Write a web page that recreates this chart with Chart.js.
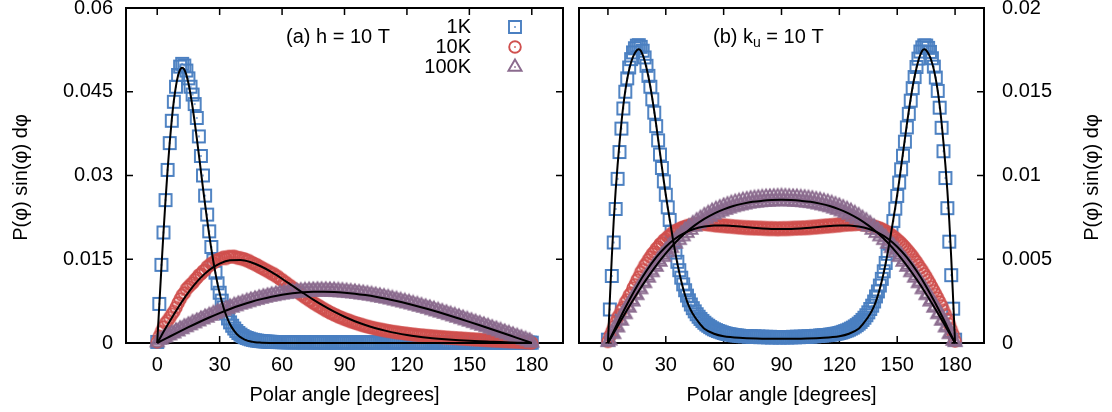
<!DOCTYPE html>
<html>
<head>
<meta charset="utf-8">
<script src="https://cdn.jsdelivr.net/npm/chart.js@4.4.1/dist/chart.umd.min.js"></script>
<style>
  html, body { margin: 0; padding: 0; background: #fff; }
  #wrap { position: relative; width: 1112px; height: 412px; }
  .panel { position: absolute; top: 0; height: 412px; }
  #panel-a { left: 0; width: 571px; }
  #panel-b { left: 571px; width: 541px; }
</style>
</head>
<body>
<div id="wrap">
  <div class="panel" id="panel-a"><canvas id="chart-a"></canvas></div>
  <div class="panel" id="panel-b"><canvas id="chart-b"></canvas></div>
</div>
<script>
// Distribuições do ângulo polar: (a) campo h = 10 T, (b) anisotropia k_u = 10 T.

const FONT = '"Liberation Sans", Arial, Helvetica, sans-serif';
const BLUE = '#4a7fc1';
const RED = '#d0504e';
const PURPLE = '#8b6b8e';

const steps = (from, to, step) => {
  const out = [];
  for (let v = from; v <= to; v += step) out.push(v);
  return out;
};

// grade de amostragem (graus)
const angles = steps(0, 180, 1);
const fitAnglesCoarse = steps(0, 180, 5);
const fitAnglesA1 = steps(0, 50, 1).concat([55, 60, 70, 80, 90, 100, 120, 140, 160, 180]);
const fitAnglesB1 = steps(0, 50, 1).concat([55, 60, 70, 80, 90, 100, 110, 120, 125], steps(130, 180, 1));

const xTicks = [0, 30, 60, 90, 120, 150, 180];
const yTicksA = [0, 0.015, 0.03, 0.045, 0.06];
const yTickLabelsA = ['0', '0.015', '0.03', '0.045', '0.06'];
const yTicksB = [0, 0.005, 0.01, 0.015, 0.02];
const yTickLabelsB = ['0', '0.005', '0.01', '0.015', '0.02'];
const temperatures = ['1K', '10K', '100K'];

// valores em unidades de 1e-5
// (a) h = 10 T
const sqA = [
  20, 700, 1400, 1980, 2560, 3100, 3580, 3980, 4320, 4590,
  4800, 4950, 5000, 4970, 4880, 4740, 4590, 4450, 4280, 4030,
  3700, 3350, 3000, 2640, 2300, 2000, 1720, 1480, 1260, 1070,
  900, 760, 640, 530, 440, 370, 310, 260, 215, 180,
  150, 125, 105, 90, 78, 66, 57, 49, 43, 38,
  34, 30, 27, 25, 23, 21, 19, 18, 17, 16,
  15, 14, 15, 13, 14, 12, 13, 14, 12, 13,
  11, 12, 13, 11, 12, 13, 11, 12, 10, 12,
  11, 10, 12, 11, 10, 12, 10, 11, 12, 10,
  11, 12, 10, 11, 10, 12, 11, 10, 11, 12,
  10, 11, 10, 12, 11, 10, 11, 12, 10, 11,
  10, 12, 11, 10, 11, 12, 10, 11, 10, 11,
  12, 10, 11, 10, 12, 11, 10, 11, 10, 12,
  11, 10, 11, 12, 10, 11, 10, 11, 12, 10,
  11, 10, 12, 11, 10, 11, 10, 12, 11, 10,
  11, 12, 10, 11, 10, 11, 12, 10, 11, 10,
  11, 12, 10, 11, 10, 9, 11, 10, 9, 10,
  11, 9, 10, 9, 8, 10, 9, 8, 9, 7,
  6,
];
const ciA = [
  20, 120, 205, 285, 355, 400, 455, 515, 565, 635,
  715, 785, 855, 895, 965, 1005, 1045, 1075, 1125, 1165,
  1215, 1235, 1285, 1305, 1365, 1385, 1425, 1435, 1475, 1485,
  1505, 1515, 1535, 1515, 1545, 1545, 1545, 1550, 1535, 1520,
  1525, 1500, 1505, 1475, 1475, 1440, 1435, 1405, 1400, 1365,
  1355, 1325, 1315, 1285, 1275, 1240, 1240, 1195, 1190, 1145,
  1135, 1095, 1080, 1035, 1025, 980, 970, 925, 910, 870,
  855, 815, 805, 765, 755, 715, 705, 670, 660, 625,
  615, 580, 575, 540, 535, 505, 500, 470, 465, 440,
  435, 410, 408, 383, 380, 358, 355, 335, 333, 312,
  310, 292, 291, 273, 272, 256, 255, 240, 240, 225,
  225, 212, 213, 200, 201, 188, 190, 178, 180, 168,
  170, 158, 161, 149, 152, 141, 144, 133, 137, 126,
  130, 119, 123, 112, 117, 106, 111, 100, 105, 94,
  99, 89, 94, 84, 89, 79, 84, 74, 79, 69,
  74, 64, 69, 59, 64, 55, 60, 51, 56, 47,
  52, 43, 48, 39, 44, 35, 40, 31, 36, 27,
  32, 23, 28, 19, 23, 15, 18, 11, 13, 7,
  3,
];
const triA = [
  10, 55, 60, 95, 100, 140, 135, 175, 170, 215,
  205, 255, 245, 290, 280, 325, 315, 365, 350, 395,
  385, 430, 420, 465, 450, 495, 485, 530, 515, 560,
  545, 590, 575, 620, 605, 648, 630, 675, 655, 700,
  685, 725, 705, 748, 728, 770, 750, 790, 770, 810,
  790, 828, 808, 845, 825, 862, 838, 876, 853, 890,
  866, 902, 876, 912, 886, 922, 895, 930, 902, 936,
  908, 941, 912, 946, 916, 950, 918, 952, 920, 952,
  920, 952, 918, 950, 915, 948, 912, 942, 906, 937,
  902, 930, 894, 922, 886, 914, 878, 904, 866, 894,
  858, 884, 846, 872, 834, 858, 820, 845, 806, 830,
  792, 815, 776, 798, 758, 782, 742, 764, 724, 746,
  706, 728, 688, 708, 668, 690, 648, 670, 628, 648,
  608, 628, 586, 606, 564, 585, 542, 562, 520, 540,
  498, 516, 474, 494, 450, 470, 427, 446, 403, 422,
  380, 398, 355, 373, 330, 349, 306, 324, 281, 299,
  256, 274, 231, 249, 206, 224, 180, 198, 155, 172,
  129, 146, 104, 120, 78, 94, 52, 66, 28, 38,
  5,
];
const fitA1 = [
  0, 675, 1336, 1970, 2563, 3105, 3587, 4000, 4339, 4602,
  4787, 4895, 4930, 4897, 4802, 4651, 4455, 4222, 3958, 3674,
  3378, 3076, 2776, 2482, 2200, 1933, 1685, 1455, 1247, 1059,
  893, 746, 619, 510, 416, 337, 271, 216, 171, 135,
  105, 82, 62, 48, 36, 27, 20, 15, 11, 8,
  5,
  1, 0, 0, 0, 0, 0, 0, 0, 0, 0,
];
const fitA2 = [0, 325, 632, 907, 1134, 1308, 1423, 1481, 1486, 1446, 1370, 1269, 1151, 1025, 899, 777, 664, 561, 470, 390, 323, 265, 217, 177, 144, 117, 94, 76, 61, 49, 39, 30, 23, 16, 10, 5, 0];
const fitA3 = [0, 96, 191, 283, 372, 457, 536, 610, 676, 735, 786, 829, 864, 890, 908, 918, 920, 915, 902, 883, 858, 828, 792, 751, 707, 659, 608, 554, 498, 439, 379, 318, 256, 193, 129, 64, 0];

// (b) k_u = 10 T
const sqB = [
  20, 200, 400, 600, 800, 980, 1140, 1280, 1400, 1500,
  1580, 1645, 1695, 1735, 1760, 1775, 1778, 1768, 1745, 1705,
  1655, 1595, 1530, 1455, 1375, 1295, 1210, 1125, 1045, 965,
  885, 810, 735, 665, 600, 540, 485, 435, 390, 350,
  315, 283, 255, 230, 208, 189, 172, 157, 144, 132,
  121, 111, 103, 95, 88, 82, 77, 72, 68, 64,
  60, 57, 54, 52, 50, 48, 46, 45, 44, 42,
  41, 40, 42, 38, 41, 37, 40, 36, 39, 35,
  38, 35, 37, 34, 37, 33, 36, 34, 36, 33,
  35, 34, 36, 33, 36, 34, 37, 34, 38, 35,
  38, 36, 39, 37, 40, 38, 41, 40, 43, 42,
  45, 45, 46, 47, 48, 50, 51, 53, 55, 57,
  60, 63, 67, 71, 75, 80, 86, 92, 99, 107,
  116, 126, 138, 151, 166, 183, 203, 223, 248, 278,
  308, 343, 383, 428, 478, 533, 593, 658, 728, 802,
  878, 958, 1037, 1118, 1202, 1287, 1368, 1447, 1522, 1588,
  1648, 1698, 1740, 1765, 1777, 1776, 1762, 1738, 1700, 1650,
  1585, 1505, 1405, 1285, 1145, 985, 805, 605, 405, 205,
  20,
];
const ciB = [
  10, 42, 68, 97, 123, 152, 168, 197, 213, 242,
  258, 284, 298, 327, 348, 374, 393, 422, 438, 462,
  476, 497, 513, 532, 543, 562, 573, 590, 598, 614,
  620, 634, 640, 654, 658, 670, 673, 682, 684, 692,
  692, 700, 698, 706, 704, 710, 708, 713, 710, 714,
  709, 713, 706, 711, 703, 709, 700, 707, 698, 705,
  696, 703, 694, 701, 692, 699, 690, 697, 688, 695,
  686, 694, 684, 693, 683, 692, 682, 691, 681, 690,
  680, 689, 679, 688, 678, 688, 678, 687, 677, 687,
  678, 688, 678, 688, 679, 689, 680, 690, 681, 691,
  682, 692, 683, 693, 684, 695, 686, 697, 688, 699,
  690, 701, 692, 703, 694, 705, 696, 707, 698, 709,
  700, 711, 703, 712, 705, 713, 706, 714, 708, 713,
  710, 712, 708, 708, 704, 706, 700, 700, 694, 694,
  686, 686, 676, 676, 664, 662, 650, 646, 634, 628,
  616, 607, 596, 584, 572, 558, 545, 530, 516, 498,
  484, 466, 448, 432, 413, 395, 374, 355, 333, 312,
  290, 268, 245, 222, 195, 170, 140, 112, 80, 50,
  12,
];
const triB = [
  5, 14, 60, 52, 100, 92, 140, 132, 180, 171,
  219, 210, 257, 247, 294, 285, 331, 320, 366, 356,
  401, 389, 434, 422, 466, 454, 497, 484, 526, 513,
  555, 540, 581, 566, 607, 592, 631, 614, 653, 636,
  675, 656, 694, 675, 713, 694, 730, 710, 745, 725,
  761, 739, 774, 752, 787, 765, 798, 775, 808, 785,
  818, 794, 826, 802, 834, 810, 841, 816, 846, 821,
  852, 826, 856, 831, 861, 835, 864, 837, 867, 840,
  869, 842, 871, 843, 872, 845, 873, 846, 874, 847,
  875, 847, 874, 846, 873, 845, 872, 843, 871, 842,
  869, 840, 867, 837, 864, 835, 861, 831, 856, 826,
  852, 821, 846, 816, 841, 810, 834, 802, 826, 794,
  818, 785, 808, 775, 798, 765, 787, 752, 774, 739,
  761, 725, 745, 710, 730, 694, 713, 675, 694, 656,
  675, 636, 653, 614, 631, 592, 607, 566, 581, 540,
  555, 513, 526, 484, 497, 454, 466, 422, 434, 389,
  401, 356, 366, 320, 331, 285, 294, 247, 257, 210,
  219, 171, 180, 132, 140, 92, 100, 52, 60, 12,
  5,
];
const fitB1 = [
  0, 260, 510, 730, 910, 1060, 1195, 1315, 1420, 1505,
  1575, 1632, 1675, 1708, 1732, 1748, 1753, 1746, 1722, 1687,
  1642, 1590, 1530, 1460, 1385, 1305, 1220, 1135, 1050, 965,
  885, 810, 740, 670, 600, 535, 475, 420, 370, 325,
  285, 250, 220, 196, 175, 157, 140, 124, 110, 97,
  85,
  55, 40, 30, 26, 25, 26, 30, 40, 55,
  85, 97, 110, 124, 140, 157, 175, 196, 220, 250,
  285, 325, 370, 420, 475, 535, 600, 670, 740, 810,
  885, 965, 1050, 1135, 1220, 1305, 1385, 1460, 1530, 1590,
  1642, 1687, 1722, 1746, 1753, 1748, 1732, 1708, 1675, 1632,
  1575, 1505, 1420, 1315, 1195, 1060, 910, 730, 510, 260,
  0,
];
const fitB2 = [0, 119, 233, 338, 431, 511, 575, 624, 659, 682, 695, 701, 702, 698, 694, 688, 684, 681, 680, 681, 684, 688, 694, 698, 702, 701, 695, 682, 659, 624, 575, 511, 431, 338, 233, 119, 0];
const fitB3 = [0, 100, 199, 293, 381, 462, 535, 600, 655, 702, 741, 773, 798, 818, 832, 843, 849, 853, 855, 853, 849, 843, 832, 818, 798, 773, 741, 702, 655, 600, 535, 462, 381, 293, 199, 100, 0];

Chart.defaults.font.family = FONT;
Chart.defaults.font.size = 20;
Chart.defaults.color = '#000';

function glyph(shape, color) {
  const c = document.createElement('canvas');
  c.width = 20;
  c.height = 20;
  const g = c.getContext('2d');
  g.strokeStyle = color;
  g.fillStyle = color;
  g.lineWidth = 1.9;
  g.beginPath();
  if (shape === 'square') g.rect(4, 4, 12, 12);
  else if (shape === 'circle') g.arc(10, 10, 5.8, 0, Math.PI * 2);
  else { g.moveTo(10, 2.4); g.lineTo(16.6, 13.8); g.lineTo(3.4, 13.8); g.closePath(); }
  g.stroke();
  g.fillRect(9.2, 9.2, 1.6, 1.6);
  return c;
}

const GLYPHS = [glyph('square', BLUE), glyph('circle', RED), glyph('triangle', PURPLE)];

const pts = (xs, ys) => xs.map((x, i) => ({ x, y: ys[i] / 1e5 }));

function markerSet(label, xs, ys, style, order) {
  return {
    label, data: pts(xs, ys), pointStyle: style, pointRadius: 7, pointHoverRadius: 7,
    showLine: false, order, clip: false,
  };
}

function fitSet(xs, ys) {
  return {
    data: pts(xs, ys), showLine: true, borderColor: '#000', borderWidth: 2,
    pointRadius: 0, cubicInterpolationMode: 'monotone', order: 0, clip: false,
  };
}

function xScale() {
  return {
    type: 'linear', min: -15, max: 195,
    grid: { display: false, drawTicks: false },
    border: { display: false },
    ticks: { padding: 10, maxRotation: 0, autoSkip: false },
    title: { display: true, text: 'Polar angle [degrees]', padding: { top: 0, bottom: 5 } },
    afterBuildTicks: (s) => { s.ticks = xTicks.map((value) => ({ value })); },
    afterFit: (s) => { s.height = 69; s.paddingLeft = 0; s.paddingRight = 0; },
  };
}

function yScale(position, ticks, labels, max, width, padding) {
  return {
    type: 'linear', position, min: 0, max,
    grid: { display: false, drawTicks: false },
    border: { display: false },
    ticks: { padding, autoSkip: false, callback: (v, i) => labels[i] },
    afterBuildTicks: (s) => { s.ticks = ticks.map((value) => ({ value })); },
    afterFit: (s) => { s.width = width; s.paddingTop = 0; s.paddingBottom = 0; },
  };
}

// moldura + marcas internas (estilo gnuplot)
const framePlugin = {
  id: 'frame',
  beforeDatasetsDraw(chart, args, opts) {
    const { ctx, chartArea: a, scales: { x, y } } = chart;
    const len = 7;
    ctx.save();
    ctx.strokeStyle = '#000';
    ctx.lineWidth = 2;
    ctx.strokeRect(a.left, a.top, a.right - a.left, a.bottom - a.top);
    ctx.lineWidth = 1.5;
    ctx.beginPath();
    x.ticks.forEach((t) => {
      const px = x.getPixelForValue(t.value);
      ctx.moveTo(px, a.bottom); ctx.lineTo(px, a.bottom - len);
      ctx.moveTo(px, a.top); ctx.lineTo(px, a.top + len);
    });
    y.ticks.forEach((t) => {
      const py = y.getPixelForValue(t.value);
      if (opts.left) { ctx.moveTo(a.left, py); ctx.lineTo(a.left + len, py); }
      if (opts.right) { ctx.moveTo(a.right, py); ctx.lineTo(a.right - len, py); }
    });
    ctx.stroke();
    ctx.restore();
  },
};

function drawYTitle(ctx, cx, cy) {
  ctx.save();
  ctx.translate(cx, cy);
  ctx.rotate(-Math.PI / 2);
  ctx.font = `20px ${FONT}`;
  ctx.fillStyle = '#000';
  ctx.textAlign = 'center';
  ctx.textBaseline = 'middle';
  ctx.fillText('P(φ) sin(φ) dφ', 0, 0);
  ctx.restore();
}

const textA = {
  id: 'textA',
  afterDraw(chart) {
    const { ctx, chartArea: a } = chart;
    ctx.save();
    ctx.font = `20px ${FONT}`;
    ctx.fillStyle = '#000';
    ctx.textBaseline = 'middle';
    ctx.textAlign = 'left';
    ctx.fillText('(a) h = 10 T', 286, 37);
    ctx.textAlign = 'right';
    temperatures.forEach((label, i) => {
      const yy = 27 + i * 20;
      ctx.fillText(label, 471, yy);
      ctx.drawImage(GLYPHS[i], 515 - 10, yy - 10);
    });
    ctx.restore();
    drawYTitle(ctx, 21, (a.top + a.bottom) / 2 + 2);
  },
};

const textB = {
  id: 'textB',
  afterDraw(chart) {
    const { ctx, chartArea: a } = chart;
    ctx.save();
    ctx.fillStyle = '#000';
    ctx.textBaseline = 'middle';
    ctx.textAlign = 'left';
    let x0 = 142;
    ctx.font = `20px ${FONT}`;
    ctx.fillText('(b) k', x0, 37);
    x0 += ctx.measureText('(b) k').width;
    ctx.font = `14px ${FONT}`;
    ctx.fillText('u', x0, 43);
    x0 += ctx.measureText('u').width;
    ctx.font = `20px ${FONT}`;
    ctx.fillText(' = 10 T', x0, 37);
    ctx.restore();
    drawYTitle(ctx, 521, (a.top + a.bottom) / 2 + 2);
  },
};

const baseOptions = {
  responsive: true,
  maintainAspectRatio: false,
  animation: false,
  devicePixelRatio: 1,
  events: [],
  plugins: { legend: { display: false }, tooltip: { enabled: false } },
};

new Chart(document.getElementById('chart-a'), {
  type: 'scatter',
  data: {
    datasets: [
      markerSet('1K', angles, sqA, GLYPHS[0], 3),
      markerSet('10K', angles, ciA, GLYPHS[1], 2),
      markerSet('100K', angles, triA, GLYPHS[2], 1),
      fitSet(fitAnglesA1, fitA1),
      fitSet(fitAnglesCoarse, fitA2),
      fitSet(fitAnglesCoarse, fitA3),
    ],
  },
  options: {
    ...baseOptions,
    layout: { padding: { top: 8, right: 1, bottom: 0, left: 0 } },
    plugins: { ...baseOptions.plugins, frame: { left: true, right: true } },
    scales: {
      x: xScale(),
      y: yScale('left', yTicksA, yTickLabelsA, 0.06, 126, 13),
    },
  },
  plugins: [framePlugin, textA],
});

new Chart(document.getElementById('chart-b'), {
  type: 'scatter',
  data: {
    datasets: [
      markerSet('1K', angles, sqB, GLYPHS[0], 3),
      markerSet('10K', angles, ciB, GLYPHS[1], 2),
      markerSet('100K', angles, triB, GLYPHS[2], 1),
      fitSet(fitAnglesB1, fitB1),
      fitSet(fitAnglesCoarse, fitB2),
      fitSet(fitAnglesCoarse, fitB3),
    ],
  },
  options: {
    ...baseOptions,
    layout: { padding: { top: 8, right: 0, bottom: 0, left: 0 } },
    plugins: { ...baseOptions.plugins, frame: { left: false, right: true } },
    scales: {
      x: xScale(),
      y: yScale('right', yTicksB, yTickLabelsB, 0.02, 128, 18),
    },
  },
  plugins: [framePlugin, textB],
});
</script>
</body>
</html>
